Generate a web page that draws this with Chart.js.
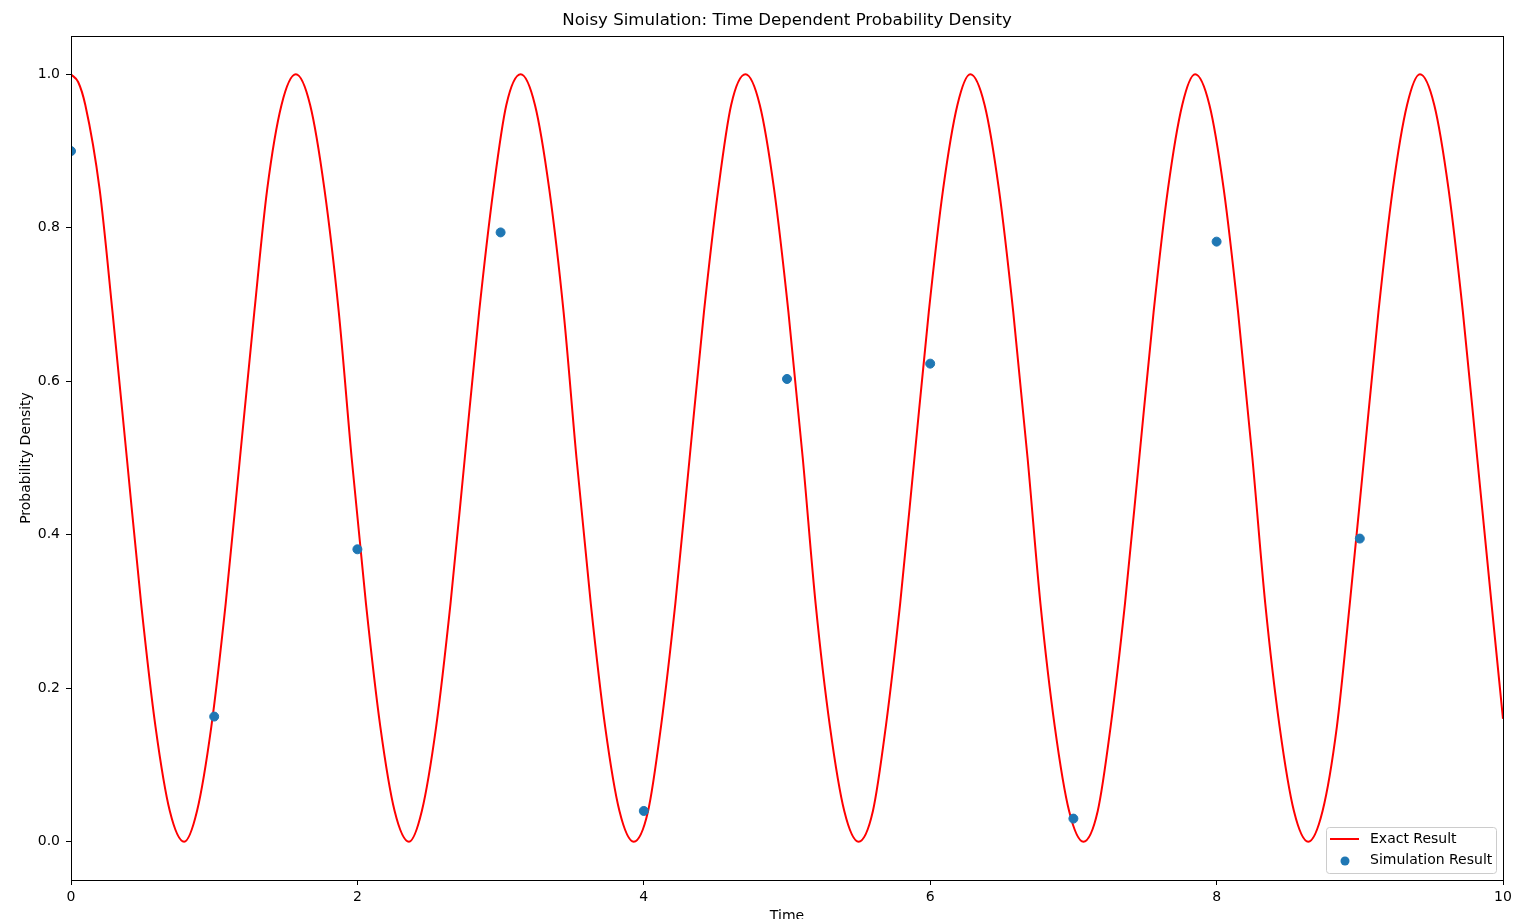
<!DOCTYPE html>
<html>
<head>
<meta charset="utf-8">
<script src="https://cdn.jsdelivr.net/npm/chart.js@4/dist/chart.umd.min.js"></script>
<style>
  html, body { margin: 0; padding: 0; background: #fff; }
  #wrap { width: 1538px; height: 919px; }
</style>
</head>
<body>
<div id="wrap"><canvas id="chart" width="1538" height="919"></canvas></div>
<script>
// exact result curve
const exactTimes = [
  0, 0.05, 0.10, 0.20, 0.29, 0.39, 0.49, 0.59, 0.69, 0.79, 0.88, 0.98, 1.08, 1.18, 1.28, 1.37, 1.47,
  1.57, 1.67, 1.77, 1.87, 1.96, 2.06, 2.16, 2.26, 2.36, 2.45, 2.55, 2.65, 2.75, 2.85, 2.95, 3.04,
  3.14, 3.24, 3.34, 3.44, 3.53, 3.63, 3.73, 3.83, 3.93, 4.03, 4.12, 4.22, 4.32, 4.42, 4.52, 4.61,
  4.71, 4.81, 4.91, 5.01, 5.11, 5.20, 5.30, 5.40, 5.50, 5.60, 5.69, 5.79, 5.89, 5.99, 6.09, 6.19,
  6.28, 6.38, 6.48, 6.58, 6.68, 6.77, 6.87, 6.97, 7.07, 7.17, 7.26, 7.36, 7.46, 7.56, 7.66, 7.76,
  7.85, 7.95, 8.05, 8.15, 8.25, 8.34, 8.44, 8.54, 8.64, 8.74, 8.84, 8.93, 9.03, 9.13, 9.23, 9.33,
  9.42, 9.52, 9.62, 9.72, 9.82, 9.92, 10.0
];
const exactValues = [
  1, 0.99, 0.96, 0.85, 0.69, 0.5, 0.31, 0.15, 0.04, 0, 0.04, 0.15, 0.31, 0.5, 0.69, 0.85, 0.96,
  1, 0.96, 0.85, 0.69, 0.5, 0.31, 0.15, 0.04, 0, 0.04, 0.15, 0.31, 0.5, 0.69, 0.85, 0.96,
  1, 0.96, 0.85, 0.69, 0.5, 0.31, 0.15, 0.04, 0, 0.04, 0.15, 0.31, 0.5, 0.69, 0.85, 0.96,
  1, 0.96, 0.85, 0.69, 0.5, 0.31, 0.15, 0.04, 0, 0.04, 0.15, 0.31, 0.5, 0.69, 0.85, 0.96,
  1, 0.96, 0.85, 0.69, 0.5, 0.31, 0.15, 0.04, 0, 0.04, 0.15, 0.31, 0.5, 0.69, 0.85, 0.96,
  1, 0.96, 0.85, 0.69, 0.5, 0.31, 0.15, 0.04, 0, 0.04, 0.15, 0.31, 0.5, 0.69, 0.85, 0.96,
  1, 0.96, 0.85, 0.69, 0.5, 0.31, 0.16
];

// noisy simulation points
const simTimes = [0, 1, 2, 3, 4, 5, 6, 7, 8, 9];
const simValues = [0.900, 0.163, 0.381, 0.794, 0.040, 0.603, 0.623, 0.030, 0.782, 0.395];

const xTicks = [0, 2, 4, 6, 8, 10];
const yTicks = [0.0, 0.2, 0.4, 0.6, 0.8, 1.0];

const FONT = 'DejaVu Sans, sans-serif';

const frameAndText = {
  id: 'frameAndText',
  afterDatasetsDraw(chart) {
    const { ctx, chartArea: a } = chart;
    ctx.save();
    // axes frame
    ctx.strokeStyle = '#000';
    ctx.lineWidth = 1;
    ctx.strokeRect(Math.round(a.left) + 0.5, Math.round(a.top) + 0.5,
      Math.round(a.right - a.left), Math.round(a.bottom - a.top));

    // legend
    const lx = 1326, ly = 827, lw = 170, lh = 46;
    ctx.beginPath();
    ctx.roundRect(lx + 0.5, ly + 0.5, lw, lh, 3);
    ctx.fillStyle = 'rgba(255,255,255,0.8)';
    ctx.fill();
    ctx.strokeStyle = '#cccccc';
    ctx.stroke();

    ctx.strokeStyle = 'red';
    ctx.lineWidth = 2;
    ctx.beginPath();
    ctx.moveTo(1330, 839);
    ctx.lineTo(1359, 839);
    ctx.stroke();

    ctx.fillStyle = '#1f77b4';
    ctx.beginPath();
    ctx.arc(1345, 861, 4.5, 0, Math.PI * 2);
    ctx.fill();

    ctx.fillStyle = '#000';
    ctx.font = '14px ' + FONT;
    ctx.textAlign = 'left';
    ctx.textBaseline = 'middle';
    ctx.fillText('Exact Result', 1370, 839);
    ctx.fillText('Simulation Result', 1370, 860);

    // title and axis titles
    const cx = (a.left + a.right) / 2;
    ctx.textAlign = 'center';
    ctx.font = '16.6px ' + FONT;
    ctx.fillText('Noisy Simulation: Time Dependent Probability Density', cx, 21);
    ctx.font = '14px ' + FONT;
    ctx.fillText('Time', cx, 916);
    ctx.translate(26, (a.top + a.bottom) / 2);
    ctx.rotate(-Math.PI / 2);
    ctx.fillText('Probability Density', 0, 0);
    ctx.restore();
  }
};

new Chart(document.getElementById('chart'), {
  type: 'scatter',
  data: {
    datasets: [
      {
        type: 'line',
        label: 'Exact Result',
        data: exactTimes.map((t, i) => ({ x: t, y: exactValues[i] })),
        borderColor: 'red',
        borderWidth: 2,
        pointRadius: 0,
        cubicInterpolationMode: 'monotone',
        fill: false,
        order: 2
      },
      {
        label: 'Simulation Result',
        data: simTimes.map((t, i) => ({ x: t, y: simValues[i] })),
        backgroundColor: '#1f77b4',
        borderColor: '#1f77b4',
        pointRadius: 4.5,
        pointHoverRadius: 4.5,
        order: 1
      }
    ]
  },
  options: {
    responsive: false,
    animation: false,
    layout: { padding: { top: 36, right: 35, left: 0, bottom: 0 } },
    plugins: {
      legend: { display: false },
      title: { display: false },
      tooltip: { enabled: false }
    },
    scales: {
      x: {
        type: 'linear',
        min: 0,
        max: 10,
        afterBuildTicks: s => { s.ticks = xTicks.map(v => ({ value: v })); },
        afterFit: s => { s.height = 39; },
        ticks: { color: '#000', font: { family: FONT, size: 14 }, padding: 4, maxRotation: 0 },
        grid: { drawOnChartArea: false, tickLength: 5, tickColor: '#000' },
        border: { color: '#000' }
      },
      y: {
        min: -0.05,
        max: 1.05,
        afterBuildTicks: s => { s.ticks = yTicks.map(v => ({ value: v })); },
        afterFit: s => { s.width = 71; },
        ticks: {
          color: '#000',
          font: { family: FONT, size: 14 },
          padding: 6,
          callback: v => Number(v).toFixed(1)
        },
        grid: { drawOnChartArea: false, tickLength: 5, tickColor: '#000' },
        border: { color: '#000' }
      }
    }
  },
  plugins: [frameAndText]
});
</script>
</body>
</html>
